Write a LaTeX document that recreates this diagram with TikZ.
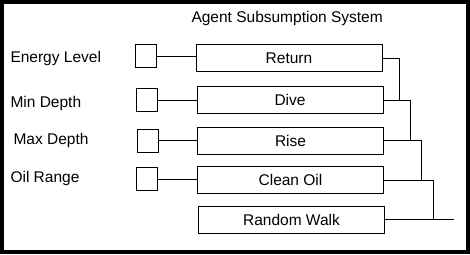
\documentclass[tikz,border=0pt]{standalone}
\usepackage{fontspec}
\setmainfont{Liberation Sans}
\begin{document}
\begin{tikzpicture}[x=1pt,y=-1pt,line width=1pt,
  every node/.style={font=\fontsize{15.5}{18}\selectfont},
  lbl/.style={anchor=base west,inner sep=0pt},
  sensor/.style={draw,minimum width=21pt,minimum height=23pt,inner sep=0pt},
  behaviour/.style={draw,minimum width=186pt,minimum height=27pt,inner sep=0pt}]
\draw[line width=4pt] (2,2) rectangle (468,252);

\node[lbl] (title) at (191,23) {Agent Subsumption System};

% inputs on the left
\node[lbl] (energylbl) at (10,62) {Energy Level};
\node[lbl] (minlbl) at (10,107) {Min Depth};
\node[lbl] (maxlbl) at (13,144.5) {Max Depth};
\node[lbl] (oillbl) at (10,182) {Oil Range};

\node[sensor] (energy) at (146,56) {};
\node[sensor] (mindepth) at (146.5,100) {};
\node[sensor] (maxdepth) at (147.5,140.5) {};
\node[sensor] (oil) at (147,179) {};

% behaviours, highest priority first
\node[behaviour] (return) at (289,58) {Return};
\node[behaviour] (dive) at (290,100) {Dive};
\node[behaviour] (rise) at (290.5,140.5) {Rise};
\node[behaviour] (clean) at (290.5,180) {Clean Oil};
\node[behaviour] (walk) at (291.5,219.5) {Random Walk};

\draw (energy) -- (energy -| return.west);
\draw (mindepth) -- (mindepth -| dive.west);
\draw (maxdepth) -- (maxdepth -| rise.west);
\draw (oil) -- (oil -| clean.west);

% each layer feeds down into the next one
\coordinate (j1) at ([xshift=16pt]dive.east);
\coordinate (j2) at ([xshift=26pt]rise.east);
\coordinate (j3) at ([xshift=37pt]clean.east);
\coordinate (j4) at ([xshift=48pt]walk.east);
\coordinate (out) at ([xshift=69pt]walk.east);
\draw (return.east) -| (j1);
\draw (dive.east) -| (j2);
\draw (rise.east) -| (j3);
\draw (clean.east) -| (j4);
\draw (walk.east) -- (out);
\end{tikzpicture}
\end{document}
